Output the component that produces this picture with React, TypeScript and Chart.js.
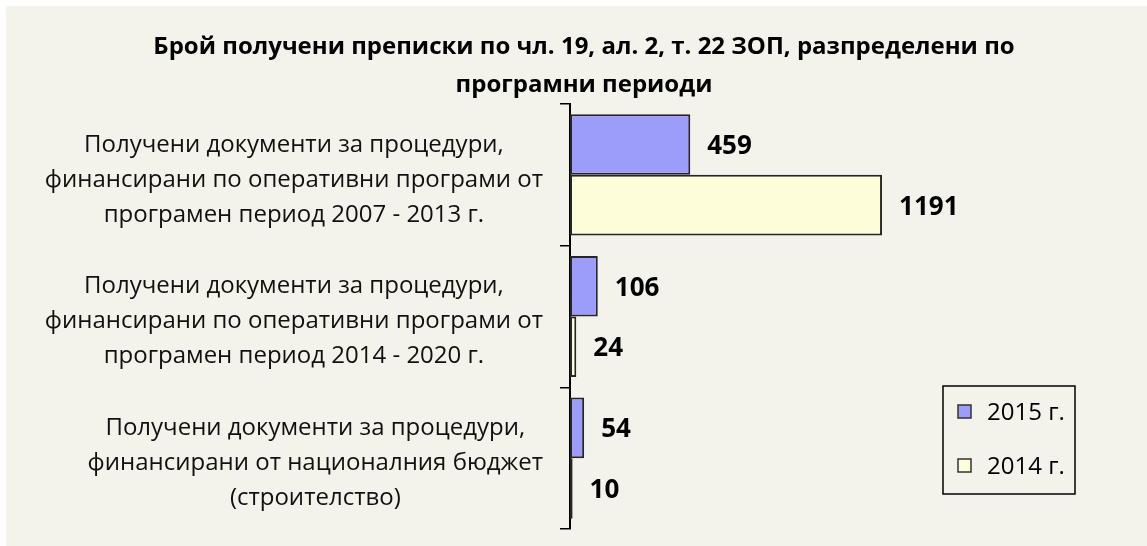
import React, { useEffect, useRef } from 'react';
import { Chart, registerables } from 'chart.js';

Chart.register(...registerables);

const titleLines = [
  'Брой получени преписки по чл. 19, ал. 2, т. 22 ЗОП, разпределени по',
  'програмни периоди',
];
const categories = [
  ['Получени документи за процедури,', 'финансирани по оперативни програми от', 'програмен период 2007 - 2013 г.'],
  ['Получени документи за процедури,', 'финансирани по оперативни програми от', 'програмен период 2014 - 2020 г.'],
  ['Получени документи за процедури,', 'финансирани от националния бюджет', '(строителство)'],
];
const seriesNames = ['2015 г.', '2014 г.'];
const series2015 = [459, 106, 54];
const series2014 = [1191, 24, 10];

const FONT = '"Open Sans", "Noto Sans", sans-serif';
const BG = 'rgb(243,242,235)';
const FILLS = ['#9C9CFB', '#FDFDDA'];
const BORDER = '#262626';

const W = 1141;
const H = 540;

const drawPlugin = {
  id: 'customDraw',
  afterDraw(chart: any) {
    const ctx = chart.ctx as CanvasRenderingContext2D;
    const yScale = chart.scales.y;
    const xScale = chart.scales.x;
    ctx.save();
    // title
    ctx.fillStyle = '#000';
    ctx.font = `bold 24px ${FONT}`;
    ctx.textAlign = 'center';
    ctx.textBaseline = 'middle';
    titleLines.forEach((t, i) => ctx.fillText(t, 578, 41 + i * 38));

    // category labels
    ctx.font = `24px ${FONT}`;
    ctx.fillStyle = '#111';
    categories.forEach((lines, i) => {
      const cy = yScale.getPixelForValue(i);
      const widest = Math.max(...lines.map((l) => ctx.measureText(l).width));
      const cx = xScale.left - 27 - widest / 2;
      lines.forEach((l, k) => ctx.fillText(l, cx, cy + (k - 1) * 35 + 5));
    });

    // data labels
    ctx.font = `bold 26px ${FONT}`;
    ctx.fillStyle = '#000';
    ctx.textAlign = 'left';
    chart.data.datasets.forEach((ds: any, di: number) => {
      const meta = chart.getDatasetMeta(di);
      meta.data.forEach((bar: any, i: number) => {
        ctx.fillText(String(ds.data[i]), bar.x + 17, bar.y + 2);
      });
    });

    // legend
    const lx = 937, ly = 380, lw = 132, lh = 108;
    ctx.strokeStyle = '#000';
    ctx.lineWidth = 1.5;
    ctx.strokeRect(lx, ly, lw, lh);
    ctx.font = `24px ${FONT}`;
    seriesNames.forEach((name, i) => {
      const iy = ly + 26 + i * 54;
      ctx.fillStyle = FILLS[i];
      ctx.fillRect(lx + 15, iy - 7, 13, 13);
      ctx.strokeStyle = '#333';
      ctx.lineWidth = 1.5;
      ctx.strokeRect(lx + 15, iy - 7, 13, 13);
      ctx.fillStyle = '#000';
      ctx.textAlign = 'left';
      ctx.fillText(name, lx + 44, iy + 1);
    });
    ctx.restore();
  },
};

export default function App() {
  const ref = useRef<HTMLCanvasElement | null>(null);
  useEffect(() => {
    if (!ref.current) return;
    const chart = new Chart(ref.current, {
      type: 'bar',
      data: {
        labels: categories.map((c) => c.join(' ')),
        datasets: [
          {
            label: seriesNames[0],
            data: series2015,
            backgroundColor: FILLS[0],
            borderColor: BORDER,
            borderWidth: 2,
            borderSkipped: false,
          },
          {
            label: seriesNames[1],
            data: series2014,
            backgroundColor: FILLS[1],
            borderColor: BORDER,
            borderWidth: 2,
            borderSkipped: false,
          },
        ],
      },
      options: {
        indexAxis: 'y',
        responsive: false,
        animation: false,
        layout: { padding: { left: 0, top: 98, right: 53, bottom: 17 } },
        datasets: { bar: { categoryPercentage: 0.855, barPercentage: 1 } },
        plugins: {
          legend: { display: false },
          title: { display: false },
          tooltip: { enabled: false },
        },
        scales: {
          x: { display: false, min: 0, max: 2000 },
          y: {
            display: true,
            ticks: { display: false },
            grid: {
              drawOnChartArea: false,
              drawTicks: true,
              tickLength: 10,
              color: '#000',
              lineWidth: 1.5,
              offset: true,
            },
            border: { display: true, color: '#000', width: 2 },
            afterFit: (s: any) => {
              s.width = 564;
            },
          },
        },
      },
      plugins: [drawPlugin],
    } as any);
    return () => chart.destroy();
  }, []);
  return (
    <div style={{ position: 'absolute', left: 6, top: 6, width: W, height: H, background: BG }}>
      <canvas ref={ref} width={W} height={H} style={{ display: 'block' }} />
    </div>
  );
}
